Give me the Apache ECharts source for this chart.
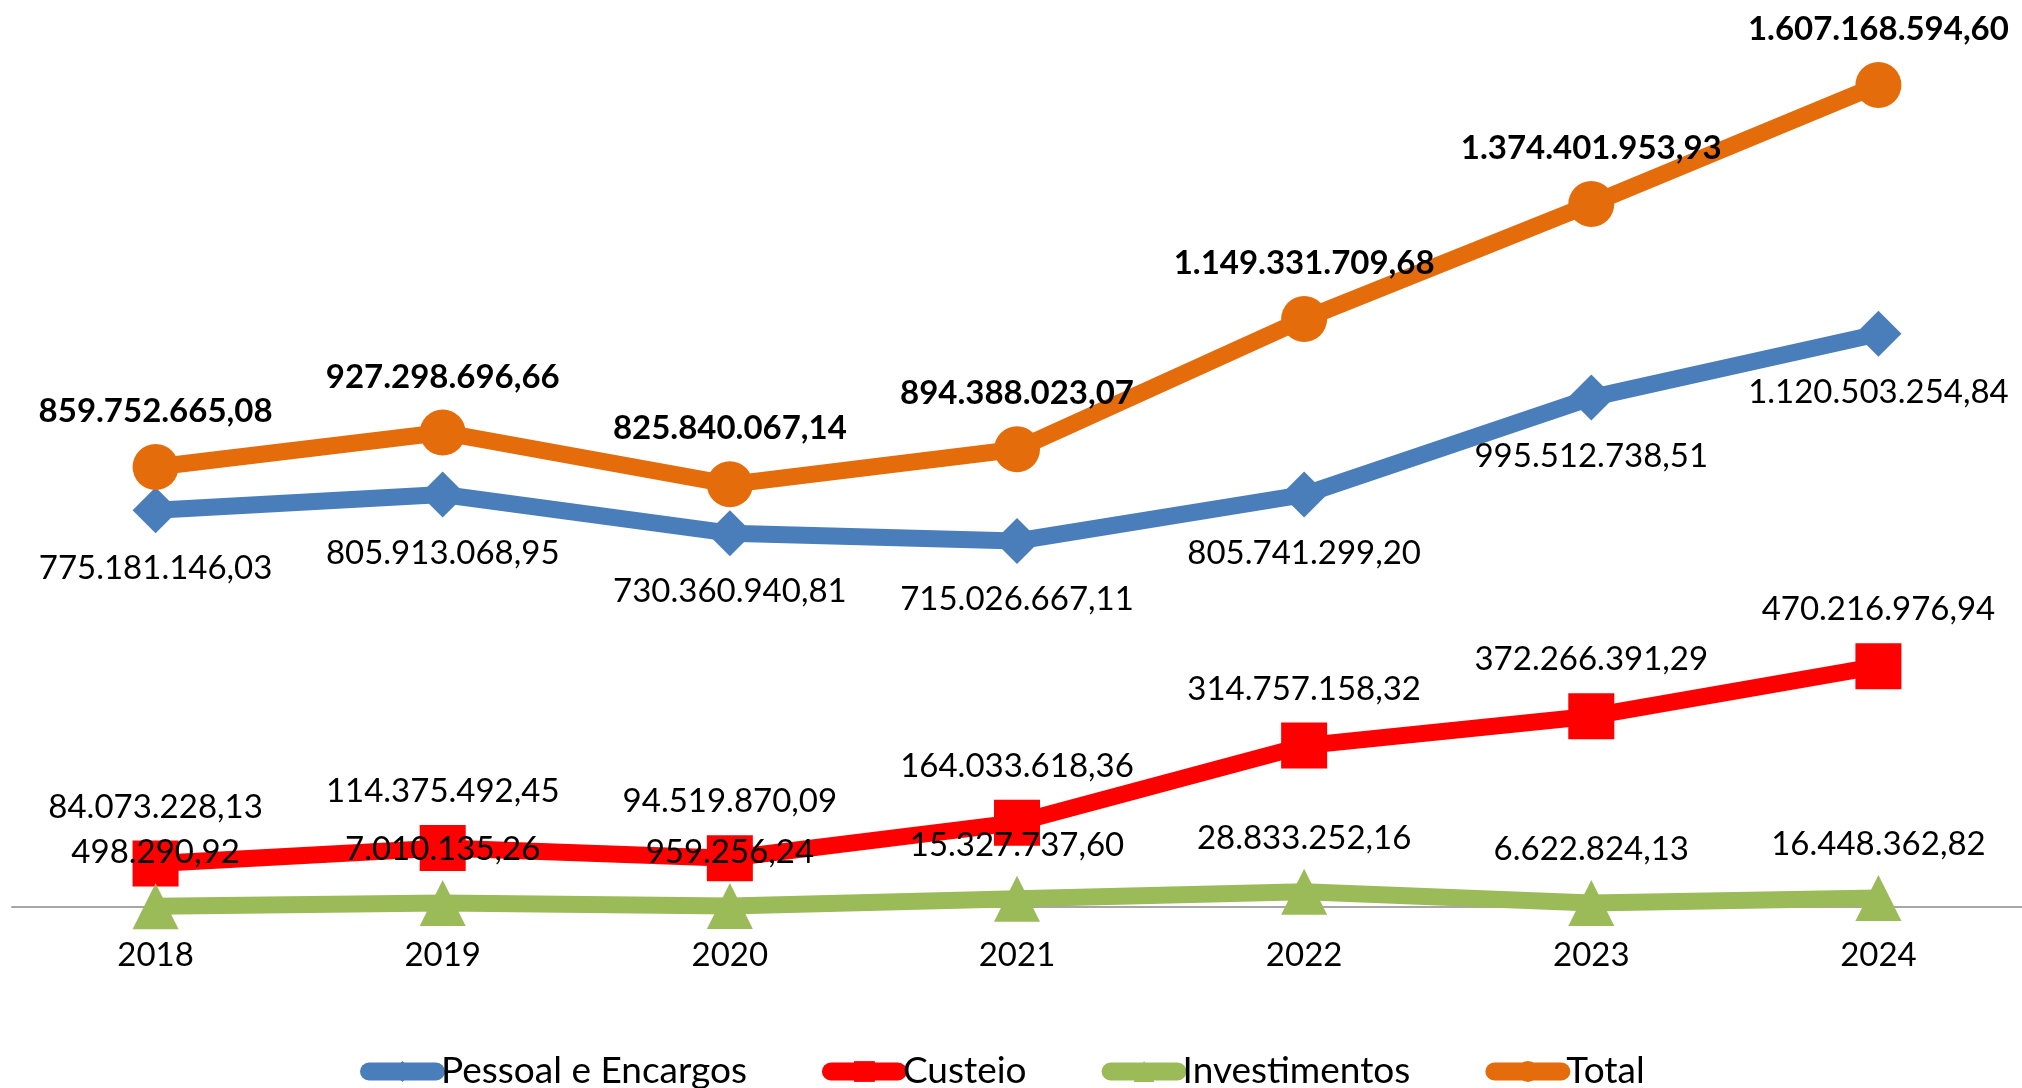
<!DOCTYPE html>
<html>
<head>
<meta charset="utf-8">
<script src="https://cdn.jsdelivr.net/npm/echarts@6/dist/echarts.min.js"></script>
<style>
  html, body { margin: 0; padding: 0; background: #fff; }
  #main { width: 2022px; height: 1088px; }
</style>
</head>
<body>
<div id="main"></div>
<script>
// anos e valores (R$)
var anos = ['2018', '2019', '2020', '2021', '2022', '2023', '2024'];
var pessoal = [775181146.03, 805913068.95, 730360940.81, 715026667.11, 805741299.20, 995512738.51, 1120503254.84];
var custeio = [84073228.13, 114375492.45, 94519870.09, 164033618.36, 314757158.32, 372266391.29, 470216976.94];
var investimentos = [498290.92, 7010135.26, 959256.24, 15327737.60, 28833252.16, 6622824.13, 16448362.82];
var total = [859752665.08, 927298696.66, 825840067.14, 894388023.07, 1149331709.68, 1374401953.93, 1607168594.60];

var fonte = 'Lato';

// formata 1234567.8 -> 1.234.567,80
function moeda(v) {
    var s = v.toFixed(2).split('.');
    var inteiro = s[0].replace(/\B(?=(\d{3})+(?!\d))/g, '.');
    return inteiro + ',' + s[1];
}

function serie(nome, dados, cor, simbolo, pos, dist, negrito) {
    return {
        name: nome,
        type: 'line',
        data: dados,
        symbol: simbolo,
        symbolSize: 46,
        itemStyle: { color: cor },
        lineStyle: { color: cor, width: 17 },
        label: {
            show: true,
            position: pos,
            distance: dist,
            color: '#000',
            fontFamily: fonte,
            fontSize: 33,
            fontWeight: negrito ? 'bold' : 'normal',
            formatter: function (p) { return moeda(p.value); }
        },
        animation: false
    };
}

var myChart = echarts.init(document.getElementById('main'));
myChart.setOption({
    backgroundColor: '#fff',
    grid: { left: 12, right: 0, top: 37.5, bottom: 181.5 },
    xAxis: {
        type: 'category',
        data: anos,
        boundaryGap: true,
        axisLine: { lineStyle: { color: '#a6a6a6', width: 2 } },
        axisTick: { show: false },
        axisLabel: { color: '#000', fontFamily: fonte, fontSize: 33, margin: 32 }
    },
    yAxis: {
        type: 'value',
        min: 0,
        max: 1700000000,
        show: false,
        splitLine: { show: false }
    },
    legend: {
        left: 355,
        top: 1048,
        itemWidth: 67,
        itemHeight: 26,
        itemGap: 75,
        textStyle: { color: '#000', fontFamily: fonte, fontSize: 37 },
        lineStyle: { width: 18, cap: 'round' },
        data: ['Pessoal e Encargos', 'Custeio', 'Investimentos', 'Total']
    },
    series: [
        serie('Pessoal e Encargos', pessoal, '#4A7EBB', 'diamond', 'bottom', 19, false),
        serie('Custeio', custeio, '#FF0000', 'rect', 'top', 17, false),
        serie('Investimentos', investimentos, '#9BBB59', 'triangle', 'top', 14, false),
        serie('Total', total, '#E46C0A', 'circle', 'top', 16, true)
    ]
});
</script>
</body>
</html>
